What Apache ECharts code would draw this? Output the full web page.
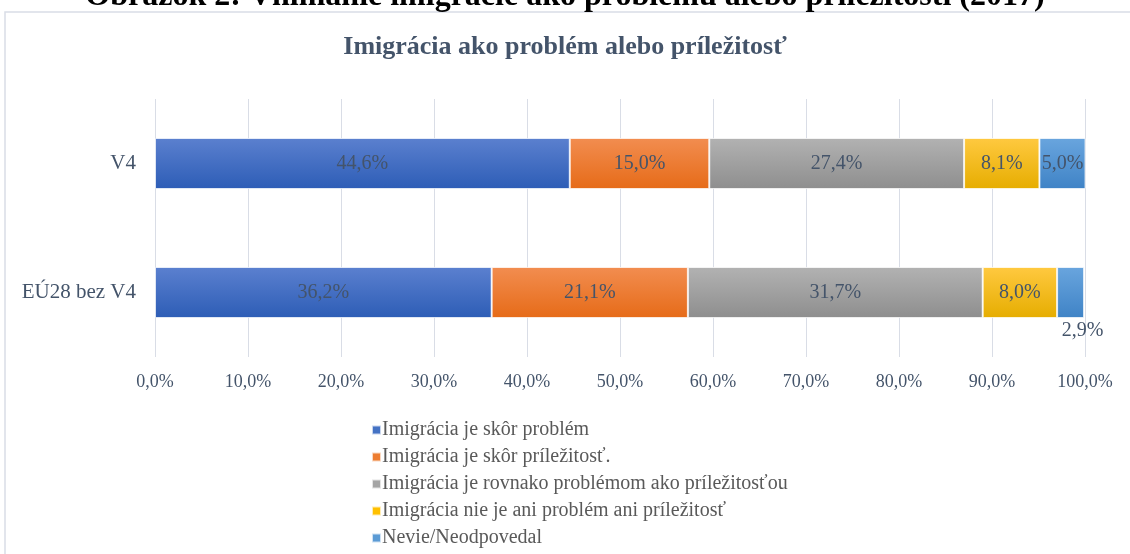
<!DOCTYPE html>
<html>
<head>
<meta charset="utf-8">
<script src="https://cdn.jsdelivr.net/npm/echarts@6/dist/echarts.min.js"></script>
<style>
  html, body { margin: 0; padding: 0; background: #fff; }
  #chart { width: 1130px; height: 554px; }
</style>
</head>
<body>
<div id="chart"></div>
<script>
// data
const categories = ['V4', 'EÚ28 bez V4'];
const seriesNames = [
  'Imigrácia je skôr problém',
  'Imigrácia je skôr príležitosť.',
  'Imigrácia je rovnako problémom ako príležitosťou',
  'Imigrácia nie je ani problém ani príležitosť',
  'Nevie/Neodpovedal'
];
const problem = [44.6, 36.2];
const opportunity = [15.0, 21.1];
const both = [27.4, 31.7];
const neither = [8.1, 8.0];
const dontKnow = [5.0, 2.9];
const xTicks = [0, 10, 20, 30, 40, 50, 60, 70, 80, 90, 100];

// gradient colours top -> bottom, like the excel fill
const fills = [
  ['#5b80cf', '#2d5db6'],
  ['#f28d50', '#e66b18'],
  ['#b2b2b2', '#8e8e8e'],
  ['#ffc940', '#e6ad00'],
  ['#69a5de', '#3f83c6']
];
const legendColors = ['#4472c4', '#ed7d31', '#a5a5a5', '#ffc000', '#5b9bd5'];
const allValues = [problem, opportunity, both, neither, dontKnow];

const pct = v => v.toFixed(1).replace('.', ',') + '%';
const serif = '"Liberation Serif", "DejaVu Serif", serif';

const chart = echarts.init(document.getElementById('chart'));

const series = allValues.map((vals, i) => ({
  name: seriesNames[i],
  type: 'bar',
  stack: 'total',
  barWidth: 51,
  itemStyle: {
    color: new echarts.graphic.LinearGradient(0, 0, 0, 1, [
      { offset: 0, color: fills[i][0] },
      { offset: 1, color: fills[i][1] }
    ]),
    borderColor: 'rgba(255,255,255,0.7)',
    borderWidth: 1
  },
  label: {
    show: true,
    position: 'inside',
    fontFamily: serif,
    fontSize: 20,
    color: '#44546a',
    formatter: p => pct(p.value)
  },
  data: vals.map((v, j) => {
    // the small 2,9% piece has its label under the bar
    if (i === 4 && j === 1) {
      return { value: v, label: { position: 'bottom', distance: 3, offset: [12, 0] } };
    }
    return v;
  })
}));

chart.setOption({
  animation: false,
  color: legendColors,
  graphic: [
    {
      type: 'rect',
      shape: { x: 5, y: 12, width: 1140, height: 560 },
      style: { fill: 'none', stroke: '#d9dde6', lineWidth: 1.5 },
      silent: true
    },
    {
      type: 'text',
      left: 'center',
      top: -19,
      style: {
        text: 'Obrázok 2: Vnímanie imigrácie ako problému alebo príležitosti (2017)',
        font: 'bold 32px "Liberation Serif", serif',
        fill: '#000'
      }
    }
  ],
  title: {
    text: 'Imigrácia ako problém alebo príležitosť',
    left: 'center',
    top: 29,
    textStyle: {
      fontFamily: serif,
      fontSize: 26,
      fontWeight: 'bold',
      color: '#44546a'
    }
  },
  legend: {
    orient: 'vertical',
    left: 366,
    top: 415,
    height: 200,
    itemWidth: 9,
    itemHeight: 9,
    itemGap: 7,
    icon: 'rect',
    textStyle: {
      fontFamily: serif,
      fontSize: 20,
      color: '#595959',
      padding: [0, 0, 0, -4]
    },
    data: seriesNames.map((n, i) => ({ name: n, itemStyle: { color: legendColors[i] } }))
  },
  grid: { left: 155, right: 45, top: 99, bottom: 197 },
  xAxis: {
    type: 'value',
    min: xTicks[0],
    max: xTicks[xTicks.length - 1],
    interval: 10,
    axisLine: { show: false },
    axisTick: { show: false },
    splitLine: { lineStyle: { color: '#d9dde6', width: 1 } },
    axisLabel: {
      margin: 16,
      fontFamily: serif,
      fontSize: 18,
      color: '#44546a',
      formatter: v => pct(v)
    }
  },
  yAxis: {
    type: 'category',
    inverse: true,
    data: categories,
    axisLine: { show: false },
    axisTick: { show: false },
    axisLabel: {
      margin: 19,
      fontFamily: serif,
      fontSize: 21,
      color: '#44546a'
    }
  },
  series: series
});
</script>
</body>
</html>
